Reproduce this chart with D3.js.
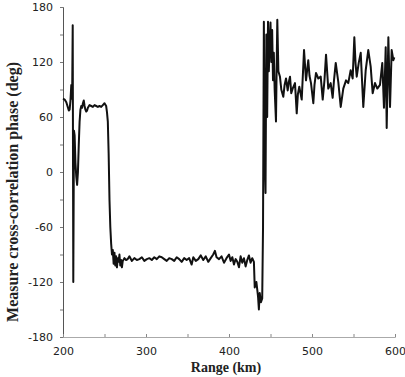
<!DOCTYPE html>
<html>
<head>
<meta charset="utf-8">
<script src="https://cdn.jsdelivr.net/npm/d3@7"></script>
<style>
  body { margin: 0; background: #fff; }
</style>
</head>
<body>
<div id="chart"></div>
<script>
// Data (range in km, phase in deg)
const rangeKm = [
  200, 202, 204, 206, 207, 208, 209, 210, 211, 211.7, 212.4, 213.2, 214, 215, 216, 217, 218, 219, 220,
  221, 222, 223, 224, 225, 226, 227, 228, 229, 230, 232, 234, 236, 238, 240, 242, 244, 246, 248, 250,
  252, 253, 254, 255, 256, 257, 258, 259,
  260, 261, 262, 263, 264, 265, 266, 267, 268, 269, 270, 271, 272, 274, 276, 278, 280, 283, 286, 289,
  292, 295, 298, 301, 304, 307, 310, 313, 316, 319, 322, 325, 328, 331, 334, 337, 340, 343, 346, 349,
  352, 355, 357, 360, 363, 366, 369, 372, 375, 378, 381, 383, 385, 388, 391, 394, 397, 400, 402, 404,
  406, 408, 410, 412, 414, 416, 418, 420, 422, 424, 426, 428, 430, 431, 433, 435, 436, 437, 438.5, 440,
  441, 442, 443, 444, 445, 446, 447, 448, 449, 450, 451, 452, 453, 454, 455, 456.6, 457.5, 458.2, 459.5,
  461.4, 463, 465.4, 467, 468.7, 470.7, 472, 473.5, 475, 476.7, 479.5, 481.6, 483, 484.7, 487.6, 490.4,
  492.8, 495.5, 497, 498.8, 501.6, 503, 504.8, 507.6, 510.5, 512.9, 515, 516.9, 519.6, 522.5, 524.9,
  526.5, 528.6, 531.7, 534.6, 537.7, 541, 543.7, 546.6, 549, 551, 552.5, 553.9, 556.3, 558.7, 561.8,
  564.7, 567.8, 570.7, 573.1, 575.9, 578.7, 581.9, 584.7, 586.7, 588.8, 590, 592, 594, 596, 598, 599.2
]
const phaseDeg = [
  80, 79, 76, 70, 67, 68, 78, 95, 80, 160, -120, 45, 40, 10, -5, -14, 0, 30, 55,
  68, 72, 70, 75, 78, 72, 68, 66, 67, 70, 73, 72, 71, 73, 72, 71, 72, 71, 73, 75,
  72, 65, 55, 20, -30, -60, -78, -90,
  -85, -100, -88, -102, -92, -104, -94, -98, -90, -102, -96, -104, -97, -94, -96, -95, -92, -97, -94, -96,
  -95, -93, -97, -95, -94, -96, -93, -95, -92, -93, -95, -97, -94, -95, -97, -93, -95, -98, -94, -96,
  -94, -101, -93, -97, -95, -91, -96, -92, -98, -94, -90, -86, -93, -95, -92, -99, -94, -90, -97, -93,
  -101, -95, -98, -104, -92, -99, -94, -103, -96, -91, -99, -94, -98, -126, -120, -136, -150, -132, -142, -138,
  -60, 164, 20, -23, 150, 60, 164, 110, 140, 163, 120, 155, 100, 130, 90, 55, 120, 166, 110,
  104, 90, 82, 95, 102, 89, 98, 104, 86, 91, 97, 64, 85, 93, 79, 133,
  100, 122, 105, 97, 75, 95, 108, 102, 104, 79, 100, 128, 91, 97, 81,
  100, 119, 98, 71, 91, 100, 97, 111, 102, 147, 118, 104, 119, 130, 71,
  111, 133, 115, 86, 97, 91, 95, 119, 70, 136, 48, 147, 71, 133, 122, 125
]
const yTicks = [-180, -150, -120, -90, -60, -30, 0, 30, 60, 90, 120, 150, 180]
const xTicks = [200, 250, 300, 350, 400, 450, 500, 550, 600]
const xLabel = 'Range (km)'
const yLabel = 'Measure cross-correlation phase (deg)'

const dataset = rangeKm.map((r, i) => ({ r: r, p: phaseDeg[i] }))

// Dimensions
const dimensions = {
  width: 405,
  height: 377,
  marginTop: 7,
  marginRight: 10,
  marginBottom: 40,
  marginLeft: 63
}
dimensions.ctrWidth = dimensions.width - dimensions.marginLeft - dimensions.marginRight
dimensions.ctrHeight = dimensions.height - dimensions.marginTop - dimensions.marginBottom

const svg = d3.select('#chart')
  .append('svg')
  .attr('width', dimensions.width)
  .attr('height', dimensions.height)

const ctr = svg.append('g')
  .attr('transform', `translate(${dimensions.marginLeft}, ${dimensions.marginTop})`)

// Scales
const xScale = d3.scaleLinear().domain([200, 600]).range([0, dimensions.ctrWidth])
const yScale = d3.scaleLinear().domain([-180, 180]).range([dimensions.ctrHeight, 0])

// Axes
const yAxis = d3.axisLeft(yScale)
  .tickValues(yTicks)
  .tickSize(3)
  .tickPadding(7)
  .tickFormat(d => (d % 60 === 0 ? d : ''))
const yAxisGroup = ctr.append('g').call(yAxis)
yAxisGroup.select('.domain').attr('stroke', '#555')
yAxisGroup.selectAll('.tick line').attr('stroke', '#777')
yAxisGroup.selectAll('text')
  .attr('font-family', 'DejaVu Sans')
  .attr('font-size', 11)
  .attr('fill', '#222')

const xAxis = d3.axisBottom(xScale)
  .tickValues(xTicks)
  .tickSize(-3)
  .tickPadding(10)
  .tickFormat(d => (d % 100 === 0 ? d : ''))
const xAxisGroup = ctr.append('g')
  .attr('transform', `translate(0, ${dimensions.ctrHeight})`)
  .call(xAxis)
xAxisGroup.select('.domain').attr('stroke', '#aaa')
xAxisGroup.selectAll('.tick line').attr('stroke', '#888')
xAxisGroup.selectAll('text')
  .attr('font-family', 'DejaVu Sans')
  .attr('font-size', 11)
  .attr('fill', '#222')

// Line
const lineGenerator = d3.line()
  .x(d => xScale(d.r))
  .y(d => yScale(d.p))

ctr.append('path')
  .datum(dataset)
  .attr('d', lineGenerator)
  .attr('fill', 'none')
  .attr('stroke', '#111')
  .attr('stroke-width', 2)
  .attr('stroke-linejoin', 'round')

// Axis titles
svg.append('text')
  .attr('x', 226)
  .attr('y', 372)
  .attr('text-anchor', 'middle')
  .attr('font-family', 'Liberation Serif')
  .attr('font-weight', 'bold')
  .attr('font-size', 14)
  .attr('fill', '#222')
  .text(xLabel)

svg.append('text')
  .attr('transform', 'translate(18, 192) rotate(-90)')
  .attr('text-anchor', 'middle')
  .attr('font-family', 'Liberation Serif')
  .attr('font-weight', 'bold')
  .attr('font-size', 16)
  .attr('fill', '#222')
  .text(yLabel)
</script>
</body>
</html>
